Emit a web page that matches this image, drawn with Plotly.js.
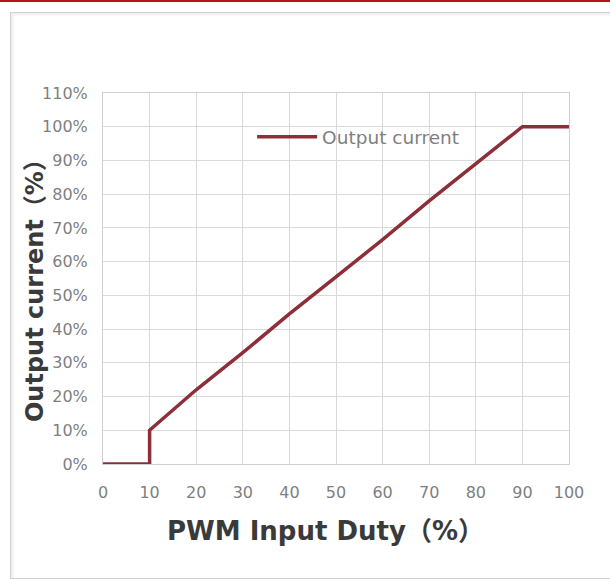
<!DOCTYPE html>
<html>
<head>
<meta charset="utf-8">
<script src="https://cdn.plot.ly/plotly-3.0.1.min.js"></script>
<style>
  html, body { margin: 0; padding: 0; background: #ffffff; }
  #wrap { position: relative; width: 610px; height: 580px; overflow: hidden; }
  #redbar { position: absolute; left: 0; top: 0; width: 610px; height: 2px; background: #b5121b; }
  #frame { position: absolute; left: 10px; top: 12px; width: 610px; height: 565px;
           border: 1px solid #d2d2d2; box-shadow: inset 2px 2px 3px rgba(0,0,0,0.08); }
  #chart { position: absolute; left: 0; top: 0; width: 610px; height: 580px; }
</style>
</head>
<body>
<div id="wrap">
  <div id="redbar"></div>
  <div id="frame"></div>
  <div id="chart"></div>
</div>
<script>
// Data
const dutyPercent = [0, 10, 10, 20, 30, 40, 50, 60, 70, 80, 90, 100];
const outputCurrent = [0, 0, 10, 22, 33, 44.5, 55.5, 66.5, 78, 89, 100, 100];
const seriesName = 'Output current';
const xTickValues = [0, 10, 20, 30, 40, 50, 60, 70, 80, 90, 100];
const yTickValues = [0, 10, 20, 30, 40, 50, 60, 70, 80, 90, 100, 110];
const yTickLabels = ['0%', '10%', '20%', '30%', '40%', '50%', '60%', '70%', '80%', '90%', '100%', '110%'];
const xTitle = 'PWM Input Duty（%）';
const yTitle = 'Output current（%）';

const trace = {
  x: dutyPercent,
  y: outputCurrent,
  type: 'scatter',
  mode: 'lines',
  name: seriesName,
  line: { color: '#8c2f39', width: 3.5 }
};

const tickFont = { family: 'DejaVu Sans, sans-serif', size: 16, color: '#7f7f7f' };
const titleFontX = { family: 'DejaVu Sans, "Noto Sans CJK SC", sans-serif', size: 26, color: '#3a3a3a', weight: 'bold' };
const titleFontY = { family: 'DejaVu Sans, "Noto Sans CJK SC", sans-serif', size: 24, color: '#3a3a3a', weight: 'bold' };

const layout = {
  width: 610,
  height: 580,
  paper_bgcolor: 'rgba(0,0,0,0)',
  plot_bgcolor: '#ffffff',
  margin: { l: 103, r: 41, t: 93, b: 116 },
  showlegend: true,
  legend: {
    x: 0.32, y: 0.881, xanchor: 'left', yanchor: 'middle',
    bgcolor: 'rgba(255,255,255,0)',
    font: { family: 'DejaVu Sans, sans-serif', size: 18.5, color: '#7f7f7f' },
    itemwidth: 60
  },
  xaxis: {
    range: [0, 100],
    tickvals: xTickValues,
    ticktext: xTickValues.map(String),
    tickfont: tickFont,
    showgrid: true, gridcolor: '#d9d9d9', gridwidth: 1,
    zeroline: false,
    showline: true, linecolor: '#d0d0d0', linewidth: 1, mirror: true,
    ticks: '', ticklabelstandoff: 14,
    fixedrange: true
  },
  yaxis: {
    range: [0, 110],
    tickvals: yTickValues,
    ticktext: yTickLabels,
    tickfont: tickFont,
    showgrid: true, gridcolor: '#d9d9d9', gridwidth: 1,
    zeroline: false,
    showline: true, linecolor: '#d0d0d0', linewidth: 1, mirror: true,
    ticks: '', ticklabelstandoff: 11,
    fixedrange: true
  },
  annotations: [
    { text: '<b>' + xTitle + '</b>', xref: 'paper', yref: 'paper', x: 0.478, y: -0.18,
      xanchor: 'center', yanchor: 'middle', showarrow: false, font: titleFontX },
    { text: '<b>' + yTitle + '</b>', xref: 'paper', yref: 'paper', x: -0.146, y: 0.485,
      xanchor: 'center', yanchor: 'middle', showarrow: false, textangle: -90, font: titleFontY }
  ]
};

Plotly.newPlot('chart', [trace], layout, { displayModeBar: false, staticPlot: true });
</script>
</body>
</html>
